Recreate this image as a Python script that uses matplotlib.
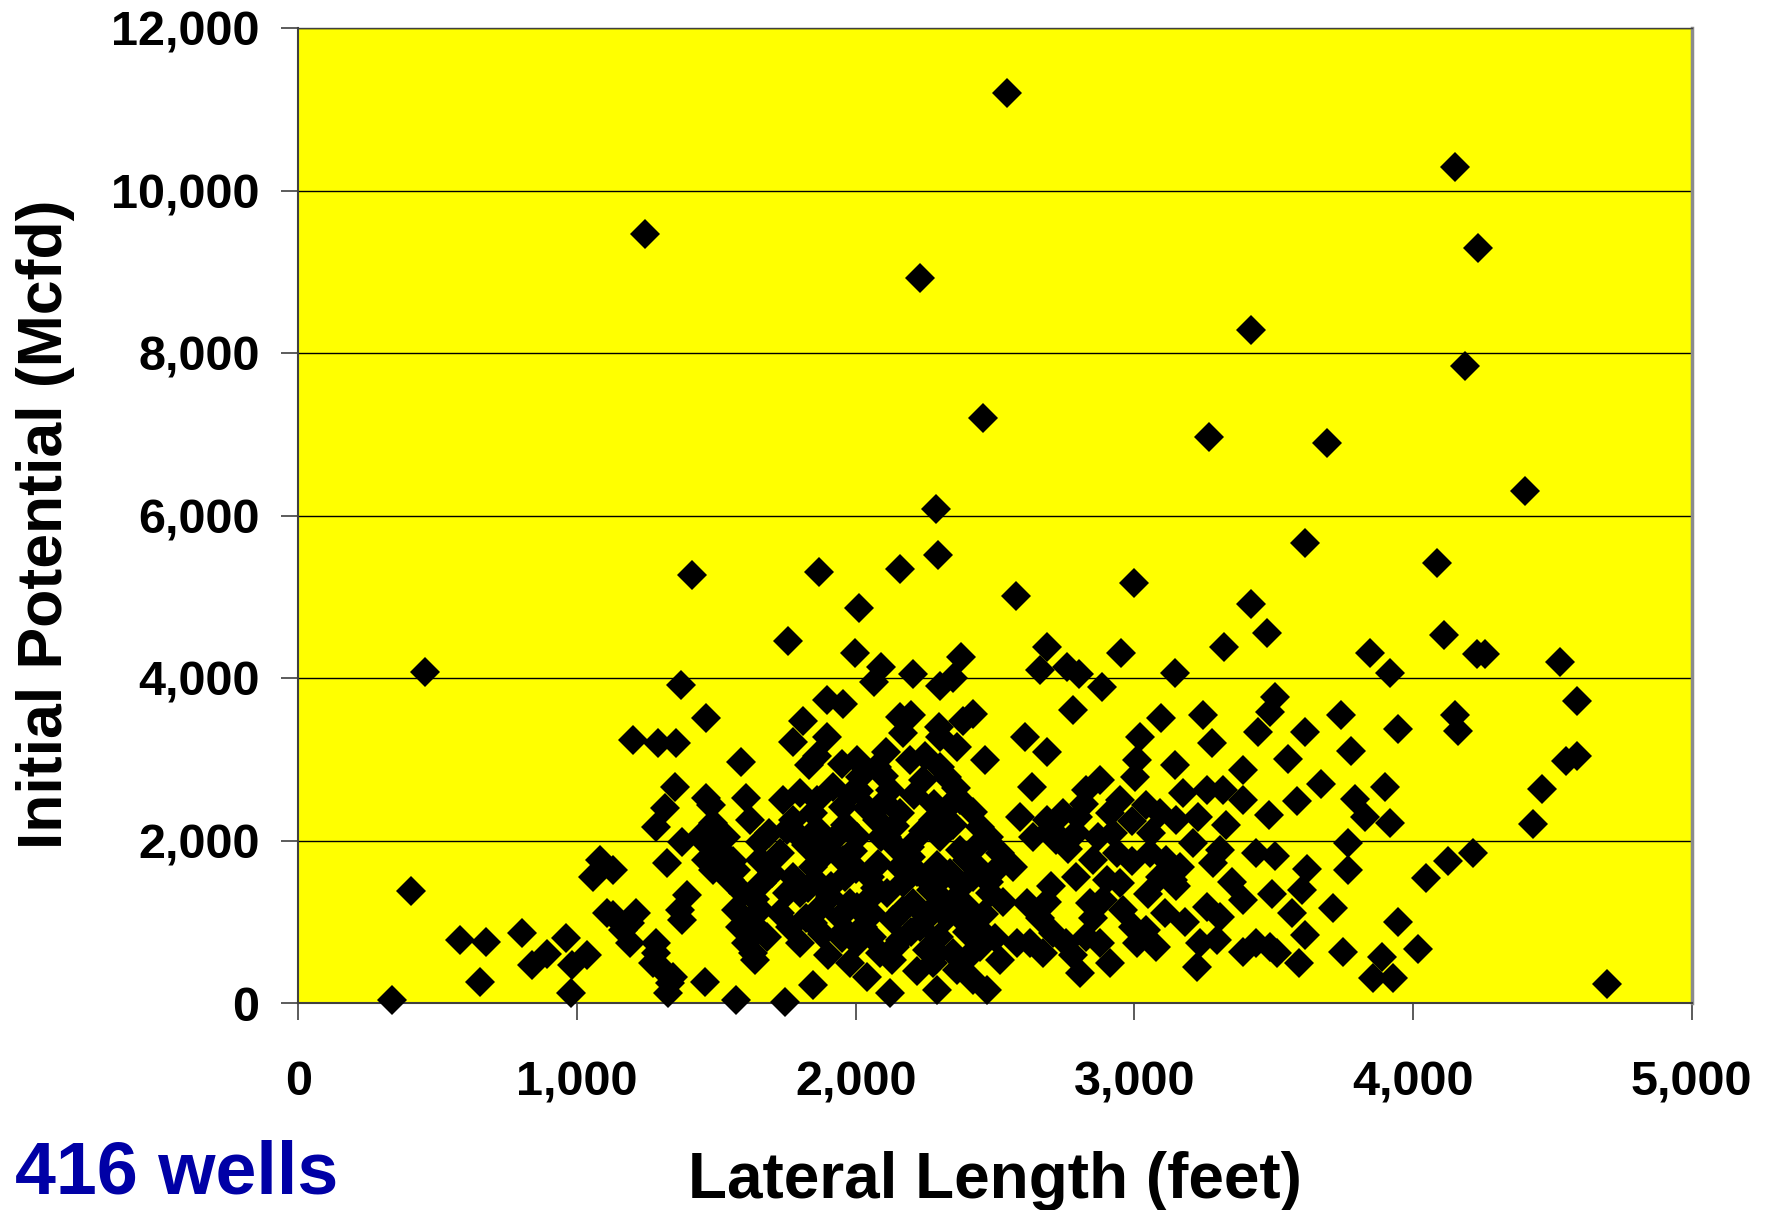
import numpy as np
import matplotlib
matplotlib.use('Agg')
from matplotlib import pyplot as plt
from matplotlib.ticker import FuncFormatter

# lateral length (feet) / initial potential (Mcfd), grouped by lateral length
lat_short = [337, 405, 456, 580, 653, 673, 801, 837, 891, 959, 981, 978]
ip_short = [40, 1380, 4083, 780, 264, 750, 871, 470, 604, 809, 473, 130]

lat_1k = [1034, 1058, 1082, 1130, 1130, 1165, 1189, 1213, 1201, 1245,
          1291, 1354, 1285, 1285, 1309, 1327, 1334, 1315, 1321, 1351,
          1372, 1375, 1393, 1369, 1375, 1411, 1461, 1464, 1482, 1459,
          1488, 1536, 1512, 1488, 1590, 1608, 1620, 1656, 1656, 1662,
          1596, 1626, 1608, 1638, 1572, 1746, 1757, 1775, 1775, 1775,
          1441, 1524, 1464, 1548, 1572, 1656, 1584, 1680, 1632, 1106,
          1189, 1285, 1273, 1345, 1728, 1752, 1763, 1728, 1752, 1740, 1572]
ip_1k = [596, 1560, 1765, 1642, 1088, 904, 740, 1109, 3242, 9470,
         3209, 3209, 2175, 617, 412, 124, 250, 2401, 1724, 2668,
         3919, 1991, 1334, 1150, 1027, 5272, 3509, 2524, 2442, 268,
         2216, 2052, 1888, 1642, 2967, 2532, 2257, 1991, 1765, 1478,
         1355, 986, 740, 535, 42, 22, 4460, 3221, 2258, 1560,
         2052, 1847, 1765, 1519, 1150, 1150, 945, 822, 617, 1109,
         986, 740, 494, 330, 1109, 1355, 945, 1847, 2134, 2504, 1642]

lat_2k = [1869, 2159, 2295, 2575, 2011, 1999, 2092, 2064, 2206, 2376, 2348, 2302, 2230, 2287, 2458, 2543,
          1896, 1955, 2159, 1812, 1896, 1833, 2386, 2422, 2302, 2464, 2589, 2446, 2518, 2374, 2326, 2362,
          2577, 2518, 2470, 2422, 2290, 2123, 1848, 2290, 2362, 2510, 2171,
          2003, 2075, 2195, 2302, 1800, 1920, 2015, 2123, 2243, 1848, 1955, 2075, 2159, 2278,
          1800, 1896, 2003, 2111, 2195, 2302, 2374, 1848, 1955, 2051, 2159, 2254, 2338, 2446, 2565,
          1800, 1908, 2003, 2111, 2207, 2302, 2398, 2482, 1848, 1944, 2027, 2135, 2231, 2326, 2434,
          1800, 2003, 2087, 2159, 2254, 2350, 2446, 1979, 2039, 2278,
          1860, 1980, 2100, 2210, 2330, 2420, 1860, 1960, 2040, 2140, 2240, 2350, 2440,
          1880, 1990, 2080, 2200, 2290, 2400, 1860, 1960, 2070, 2170, 2270, 2380, 2480,
          1870, 1980, 2060, 2170, 2260, 2360, 2460, 1880, 1960, 2060, 2200, 2300, 2400, 2500,
          1900, 2130, 2220, 2400, 1950, 2110, 2250, 2300, 2200,
          1500, 1560, 1640, 1700, 1690, 1820, 1830, 1820, 1910, 1930, 2010, 2090, 2150, 2220, 2280,
          2330, 2390, 2420, 2480, 2530, 2050, 1950, 2140, 2240, 2360, 2100, 2280, 1860, 2450, 2000]
ip_2k = [5310, 5340, 5520, 5010, 4870, 4310, 4140, 3950, 4050, 4260, 4010, 3900, 8930, 6090, 7200, 11200,
         3730, 3690, 3529, 3470, 3283, 2935, 3480, 3560, 3283, 2996, 2298, 2175, 1847, 2503, 2791, 3160,
         740, 535, 166, 288, 166, 124, 227, 617, 412, 1670, 3324,
         2996, 2914, 2996, 2914, 2586, 2668, 2791, 2627, 2750, 2339, 2421, 2257, 2339, 2257,
         2052, 1929, 2052, 2052, 1929, 2052, 1888, 1683, 1765, 1560, 1683, 1519, 1601, 1642, 1683,
         1355, 1314, 1191, 1355, 1232, 1314, 1191, 1355, 986, 1068, 945, 1027, 945, 1068, 945,
         740, 740, 617, 781, 658, 617, 699, 494, 330, 494,
         2500, 2560, 2480, 2560, 2420, 2350, 2150, 2200, 2400, 2180, 2120, 2200, 1950,
         1800, 1880, 1720, 1800, 1700, 1760, 1500, 1560, 1420, 1480, 1400, 1450, 1500,
         1180, 1240, 1100, 1150, 1100, 1300, 1100, 860, 900, 820, 880, 820, 880, 800,
         600, 540, 400, 560, 2950, 3100, 3050, 3400, 3550,
         1950, 1750, 1280, 1600, 2100, 1950, 1420, 1050, 1450, 2050, 2620, 2050, 1900, 1620, 1450,
         1150, 1020, 1560, 2050, 1250, 1300, 800, 700, 1000, 2650, 2800, 2450, 3050, 850, 1650]

lat_3k = [2997, 2685, 2660, 2758, 2802, 2952, 3147, 3269, 3321, 2882, 2780, 3097, 3247, 3277, 2607, 2685,
          3020, 3008, 3002, 3145, 2631, 2876, 2828, 2948, 2912, 3043, 3091, 3151, 3175, 3259, 3319,
          2685, 2744, 2798, 2637, 2720, 2792, 2924, 2936, 3055, 3115, 3163, 3211, 3283, 3307,
          2792, 2852, 2900, 2948, 3091, 3139, 2840, 2888, 2613, 2685, 3109, 3259, 3307,
          2996, 3043, 3008, 3079, 2625, 2709, 2756, 2828, 2876, 2912, 2804, 3235, 3295, 3223, 2673,
          2820, 2990, 2870, 3060, 2990, 2760, 2700, 3230, 2960, 3180, 2660, 2780, 3050, 3150,
          2700, 3350, 2850, 3330]
ip_3k = [5170, 4380, 4100, 4140, 4050, 4310, 4060, 6970, 4380, 3890, 3611, 3509, 3550, 3209, 3283, 3098,
         3283, 2996, 2791, 2934, 2668, 2750, 2627, 2504, 2339, 2442, 2339, 2257, 2586, 2627, 2627,
         2257, 2339, 2298, 2052, 2011, 2093, 2093, 1847, 1847, 1765, 1683, 1970, 1724, 1888,
         1560, 1765, 1519, 1478, 1560, 1519, 1232, 1273, 1232, 1252, 1109, 1191, 1068,
         945, 904, 740, 699, 740, 863, 740, 822, 740, 494, 371, 740, 781, 453, 617,
         2450, 2250, 2050, 2100, 1750, 1900, 2150, 2300, 1150, 1000, 1050, 600, 1350, 1450,
         1450, 1500, 1050, 2200]

lat_35k = [3418, 3418, 3475, 3613, 3690, 3844, 3917, 3504, 3486, 3444, 3612, 3740, 3947, 3779, 3552,
           3390, 3671, 3582, 3791, 3827, 3899, 3917, 3484, 3390, 3438, 3504, 3767, 3767, 3621, 3492,
           3390, 3711, 3564, 3612, 3947, 3486, 3510, 3390, 3591, 3749, 3887, 3857, 3929, 3438, 3600]
ip_35k = [8290, 4910, 4560, 5670, 6900, 4310, 4060, 3775, 3591, 3344, 3344, 3550, 3373, 3107, 3004,
          2873, 2700, 2495, 2512, 2299, 2668, 2216, 2319, 2504, 1855, 1814, 1970, 1642, 1650, 1343,
          1273, 1179, 1109, 842, 1006, 699, 617, 637, 502, 637, 576, 309, 309, 740, 1400]

lat_4k = [4046, 4126, 4216, 4016, 4087, 4112, 4152, 4185, 4233, 4228, 4258, 4152, 4160, 4401,
          4529, 4587, 4548, 4589, 4461, 4431, 4697]
ip_4k = [1548, 1753, 1855, 666, 5420, 4530, 10290, 7840, 9300, 4300, 4300, 3550, 3350, 6300,
         4200, 3719, 2985, 3050, 2639, 2207, 242]

lateral = np.concatenate([lat_short, lat_1k, lat_2k, lat_3k, lat_35k, lat_4k])
ip = np.concatenate([ip_short, ip_1k, ip_2k, ip_3k, ip_35k, ip_4k])

plt.rcParams['font.family'] = 'Liberation Sans'
plt.rcParams['font.weight'] = 'bold'

fig = plt.figure(figsize=(17.72, 12.10), dpi=100)
ax = fig.add_axes([0.1684, 0.1707, 0.7863, 0.806])
ax.set_facecolor('#FFFF00')

ax.plot(lateral, ip, 'D', color='black', ms=15.5, mew=0, linestyle='none', zorder=3, clip_on=False)

ax.set_xlim(0, 5000)
ax.set_ylim(0, 12000)
ax.set_xticks(np.arange(0, 5001, 1000))
ax.set_yticks(np.arange(0, 12001, 2000))
fmt = FuncFormatter(lambda v, p: '{:,.0f}'.format(v))
ax.xaxis.set_major_formatter(fmt)
ax.yaxis.set_major_formatter(fmt)
ax.yaxis.grid(True, color='black', lw=1)
ax.set_axisbelow(True)

ax.tick_params(axis='both', direction='out', length=12, width=1.2, color='#404040', labelsize=35)
ax.tick_params(axis='x', pad=29)
ax.tick_params(axis='y', pad=16)
for s in ['left', 'bottom']:
    ax.spines[s].set_color('#404040')
    ax.spines[s].set_linewidth(1.5)
ax.spines['top'].set_color('#404040')
ax.spines['top'].set_linewidth(1)
ax.spines['right'].set_color('#8c8c8c')
ax.spines['right'].set_linewidth(2.5)

fig.text(0.0254, 0.567, 'Initial Potential (Mcfd)', rotation=90, ha='center', va='center',
         fontsize=45, fontweight='bold')
fig.text(0.5615, 0.0099, 'Lateral Length (feet)', ha='center', va='baseline',
         fontsize=46, fontweight='bold')
fig.text(0.0085, 0.001, '416 wells', ha='left', va='bottom', color='#0000A6',
         fontsize=53, fontweight='bold')

plt.savefig('out.png', dpi=100)
